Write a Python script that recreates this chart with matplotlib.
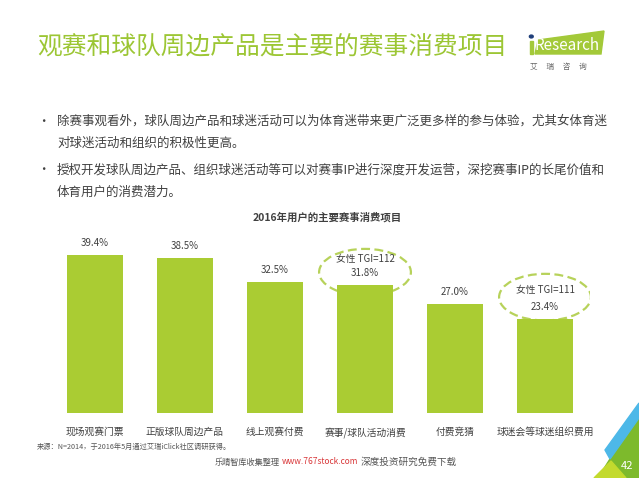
import matplotlib.pyplot as plt
from matplotlib.patches import Ellipse, Polygon, Circle

plt.rcParams['font.family'] = ['Noto Sans CJK SC', 'DejaVu Sans']

# data
categories = ['现场观赛门票', '正版球队周边产品', '线上观赛付费', '赛事/球队活动消费', '付费竞猜', '球迷会等球迷组织费用']
values = [39.4, 38.5, 32.5, 31.8, 27.0, 23.4]
tgi_labels = {3: '女性 TGI=112', 5: '女性 TGI=111'}

W, H = 639, 478
GREEN = '#AACC33'
TITLE_GREEN = '#9CC634'
TEXT = '#404040'


def fx(x):
    return x / W


def fy(y):
    return 1 - y / H


fig = plt.figure(figsize=(6.39, 4.78), dpi=100)

# page title and logo
fig.text(fx(37), fy(47), '观赛和球队周边产品是主要的赛事消费项目', fontsize=17.8,
         color=TITLE_GREEN, va='center', ha='left')
logo = Polygon([(fx(538), fy(40)), (fx(604), fy(31)), (fx(601), fy(54)), (fx(535), fy(54))],
               closed=True, transform=fig.transFigure, color='#A3C939')
fig.patches.append(logo)
fig.patches.append(Polygon([(fx(529.5), fy(41)), (fx(533), fy(41)), (fx(533), fy(54)), (fx(529.5), fy(54))],
                           closed=True, transform=fig.transFigure, color='#A3C939'))
fig.patches.append(Circle((fx(531.3), fy(36.5)), 0.003, transform=fig.transFigure, color='#1F3F7A'))
fig.text(fx(535), fy(45), 'Research', fontsize=11, color='white', va='center', ha='left')
fig.text(fx(530), fy(67), '艾     瑞     咨     询', fontsize=5.5, color='#666666', va='center', ha='left')

# bullets
bullets = [
    (121, '•', '除赛事观看外，球队周边产品和球迷活动可以为体育迷带来更广泛更多样的参与体验，尤其女体育迷'),
    (143, '', '对球迷活动和组织的积极性更高。'),
    (170, '•', '授权开发球队周边产品、组织球迷活动等可以对赛事IP进行深度开发运营，深挖赛事IP的长尾价值和'),
    (192, '', '体育用户的消费潜力。'),
]
for y, mark, line in bullets:
    if mark:
        fig.text(fx(37), fy(y), mark, fontsize=9, color=TEXT, va='center', ha='left')
    fig.text(fx(57), fy(y), line, fontsize=9, color=TEXT, va='center', ha='left')

fig.text(fx(327), fy(217), '2016年用户的主要赛事消费项目', fontsize=7.5, fontweight='bold',
         color=TEXT, va='center', ha='center')

# bar chart
ax = fig.add_axes([fx(50), fy(413), fx(590) - fx(50), (413 - 232) / H])
x = range(len(categories))
ax.bar(x, values, width=0.633, color=GREEN, zorder=3)
ax.set_xlim(-0.5, 5.5)
ax.set_ylim(0, 45)
for i, v in enumerate(values):
    ax.annotate(f'{v:.1f}%', (i, v), xytext=(0, 5), textcoords='offset points',
                ha='center', va='bottom', fontsize=7, color=TEXT)
    if i in tgi_labels:
        ax.annotate(tgi_labels[i], (i, v), xytext=(0, 15 if i == 3 else 17.5),
                    textcoords='offset points', ha='center', va='bottom',
                    fontsize=7, color=TEXT)
        cy = v + (3.2 if i == 3 else 5.4)
        ax.add_patch(Ellipse((i, cy), 1.02, 11.6, fill=False, edgecolor='#B7D25A',
                             linestyle=(0, (4, 2)), linewidth=1.6, zorder=2))
ax.set_xticks(list(x))
ax.set_xticklabels(categories, fontsize=7, color=TEXT)
ax.tick_params(axis='x', length=0, pad=10)
ax.set_yticks([])
for s in ax.spines.values():
    s.set_visible(False)

# footer
fig.text(fx(37), fy(447), '来源：N=2014，于2016年5月通过艾瑞iClick社区调研获得。', fontsize=5.2,
         color='#555555', va='center', ha='left')
fig.text(fx(215), fy(462), '乐晴智库收集整理', fontsize=5.9, color='#555555', va='center', ha='left')
fig.text(fx(282), fy(462), 'www.767stock.com', fontsize=6, color='#D9383A', va='center', ha='left')
fig.text(fx(361), fy(462), '深度投资研究免费下载', fontsize=6.9, color='#555555', va='center', ha='left')

# corner decoration
corner = [
    ([(610, 459), (639, 418), (639, 478), (598, 478)], '#7DBA2C'),
    ([(605, 450), (639, 403), (639, 418), (610, 459)], '#4DB8E8'),
    ([(594, 478), (626, 478), (611, 461)], '#C3DA2E'),
]
for pts, c in corner:
    fig.patches.append(Polygon([(fx(a), fy(b)) for a, b in pts], closed=True,
                               transform=fig.transFigure, color=c))
fig.text(fx(627), fy(466), '42', fontsize=8, color='white', va='center', ha='center')

fig.savefig('out.png', dpi=100)
